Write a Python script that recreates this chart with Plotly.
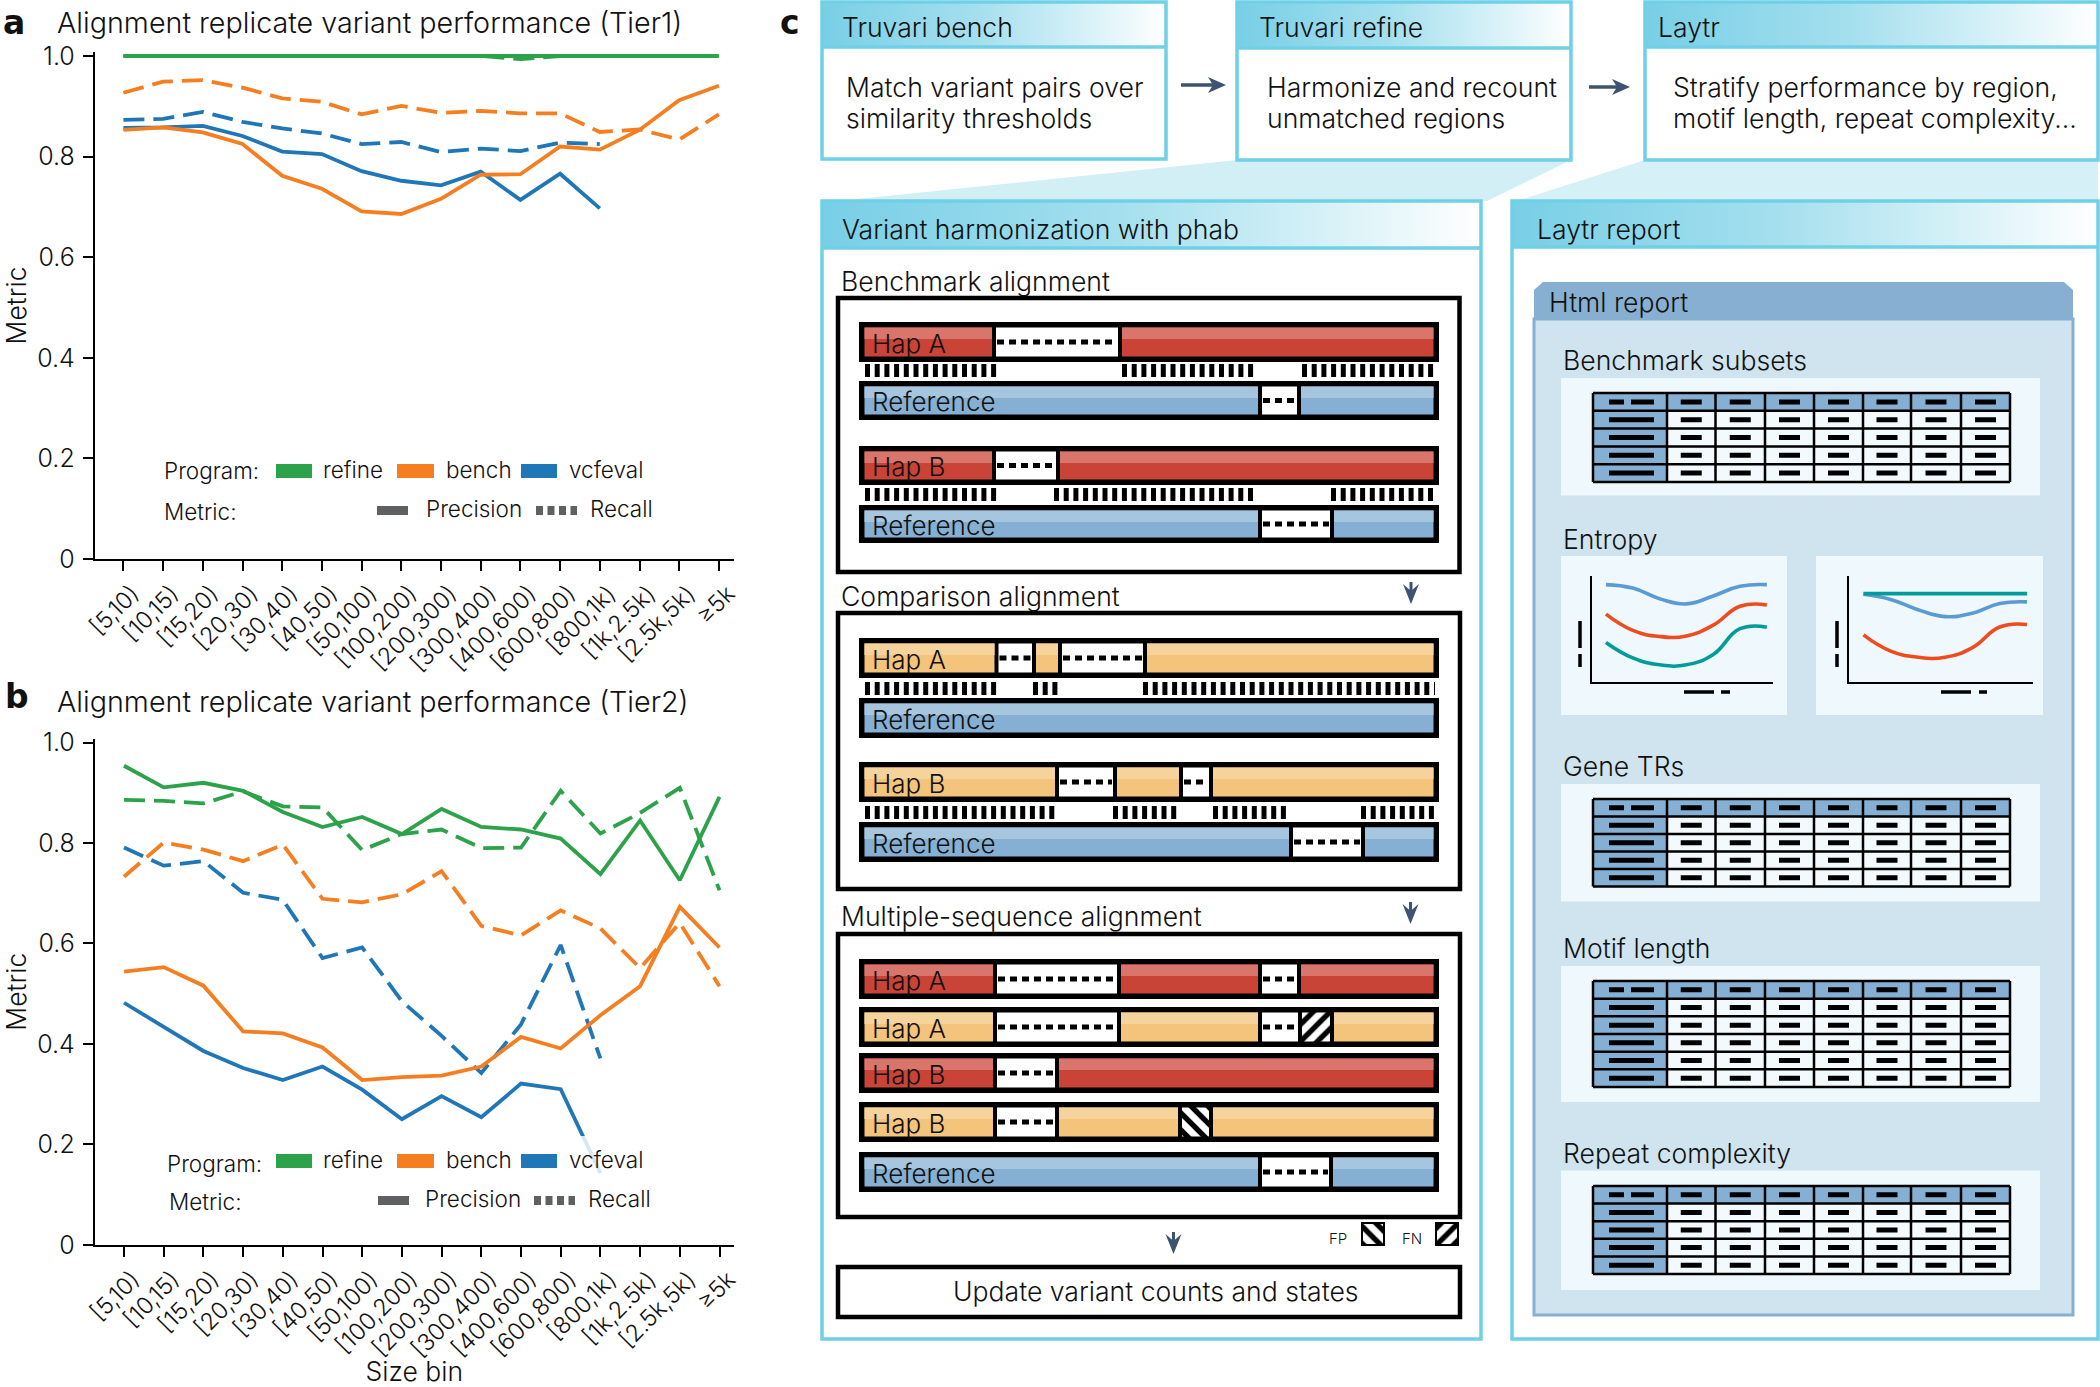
import plotly.graph_objects as go

W, H = 2100, 1387
FONT = "Inter"
INK = "#111111"

size_bins = ["[5,10)", "[10,15)", "[15,20)", "[20,30)", "[30,40)", "[40,50)", "[50,100)", "[100,200)",
             "[200,300)", "[300,400)", "[400,600)", "[600,800)", "[800,1k)", "[1k,2.5k)", "[2.5k,5k)", "≥5k"]
y_ticks = [0, 0.2, 0.4, 0.6, 0.8, 1.0]
y_labels = ["0", "0.2", "0.4", "0.6", "0.8", "1.0"]

# panel a (Tier1)
t1_refine_prec = [1.0] * 16
t1_refine_rec = [1.0, 1.0, 1.0, 1.0, 1.0, 1.0, 1.0, 1.0, 1.0, 1.0, 0.994, 1.0, 1.0, 1.0, 1.0, 1.0]
t1_bench_prec = [0.853, 0.858, 0.848, 0.825, 0.762, 0.736, 0.691, 0.686, 0.716, 0.764, 0.765, 0.820, 0.814, 0.853, 0.912, 0.941]
t1_bench_rec = [0.927, 0.949, 0.952, 0.937, 0.916, 0.909, 0.884, 0.901, 0.887, 0.891, 0.886, 0.886, 0.849, 0.854, 0.834, 0.884]
t1_vcf_prec = [0.857, 0.858, 0.861, 0.841, 0.810, 0.805, 0.771, 0.752, 0.743, 0.770, 0.714, 0.766, 0.697]
t1_vcf_rec = [0.873, 0.875, 0.889, 0.869, 0.856, 0.846, 0.825, 0.829, 0.809, 0.816, 0.811, 0.828, 0.825]

# panel b (Tier2)
t2_refine_prec = [0.954, 0.911, 0.920, 0.904, 0.862, 0.832, 0.852, 0.818, 0.868, 0.832, 0.827, 0.809, 0.738, 0.845, 0.726, 0.892]
t2_refine_rec = [0.886, 0.884, 0.879, 0.903, 0.873, 0.871, 0.786, 0.818, 0.827, 0.790, 0.791, 0.904, 0.819, 0.860, 0.910, 0.706]
t2_bench_prec = [0.544, 0.553, 0.516, 0.425, 0.421, 0.393, 0.328, 0.334, 0.337, 0.355, 0.414, 0.391, 0.457, 0.515, 0.673, 0.592]
t2_bench_rec = [0.733, 0.801, 0.787, 0.764, 0.797, 0.689, 0.682, 0.698, 0.744, 0.635, 0.616, 0.666, 0.630, 0.551, 0.641, 0.515]
t2_vcf_prec = [0.482, 0.433, 0.386, 0.352, 0.328, 0.355, 0.309, 0.250, 0.296, 0.254, 0.321, 0.310, 0.143]
t2_vcf_rec = [0.791, 0.755, 0.764, 0.701, 0.687, 0.571, 0.592, 0.485, 0.416, 0.342, 0.439, 0.597, 0.371]

# little entropy charts in the report
entropy_x = [0, 1, 2, 3, 4, 5, 6]
ent1_blue = [0.919, 0.886, 0.786, 0.737, 0.812, 0.903, 0.919]
ent1_red = [0.640, 0.487, 0.429, 0.435, 0.536, 0.714, 0.727]
ent1_teal = [0.373, 0.227, 0.162, 0.162, 0.260, 0.503, 0.516]
ent2_teal = [0.834, 0.834, 0.834, 0.834, 0.834, 0.834, 0.834]
ent2_blue = [0.828, 0.779, 0.682, 0.617, 0.649, 0.740, 0.756]
ent2_red = [0.445, 0.292, 0.234, 0.234, 0.325, 0.519, 0.542]

GREEN, ORANGE, BLUE = "#2ca24a", "#f57f20", "#1f77b8"
CYAN = "#6fd0e7"
RED_BAR = ("#c94337", "#d9756b")
ORANGE_BAR = ("#f4c47c", "#f7d39c")
BLUE_BAR = ("#85b0d3", "#a6c5df")

fig = go.Figure()
shapes = []
notes = []


def text(x, y, s, size=26.6, anchor="left", **font):
    # annotations carry a little padding, so left-anchored text is pulled back
    notes.append(dict(x=x - 2 if anchor == "left" else x, y=y, text=s, showarrow=False, xanchor=anchor, yanchor="middle", xref="x", yref="y",
                      font=dict(family=font.pop("family", FONT), size=size, color=INK, weight=font.pop("weight", 300))))


def rect(x0, y0, x1, y1, fill=None, line=None, width=0, layer="below", opacity=None):
    s = dict(type="rect", x0=x0, y0=y0, x1=x1, y1=y1, xref="x", yref="y", layer=layer,
             line=dict(color=line or "rgba(0,0,0,0)", width=width))
    if fill:
        s["fillcolor"] = fill
    if opacity is not None:
        s["opacity"] = opacity
    shapes.append(s)


def seg(x0, y0, x1, y1, color="black", width=2, dash=None, layer="below"):
    shapes.append(dict(type="line", x0=x0, y0=y0, x1=x1, y1=y1, xref="x", yref="y", layer=layer,
                       line=dict(color=color, width=width, dash=dash or "solid")))


def poly(points, fill, layer="below"):
    path = "M" + " L".join(f"{a},{b}" for a, b in points) + " Z"
    shapes.append(dict(type="path", path=path, xref="x", yref="y", fillcolor=fill, layer=layer,
                       line=dict(width=0, color="rgba(0,0,0,0)")))


def gradient(x0, y0, x1, y1):
    fig.add_trace(go.Scatter(
        x=[x0, x1, x1, x0, x0], y=[y0, y0, y1, y1, y0], mode="lines", fill="toself",
        line=dict(width=0), hoverinfo="skip", showlegend=False,
        fillgradient=dict(type="horizontal", colorscale=[[0, "#78cfe6"], [0.45, "#a4dfee"], [0.8, "#dcf3f8"], [1, "#ffffff"]]),
    ))


def hatch(x0, y0, x1, y1, pattern):
    fig.add_trace(go.Bar(
        x=[(x0 + x1) / 2], y=[y1 - y0], base=[y0], width=[x1 - x0], hoverinfo="skip", showlegend=False,
        marker=dict(color="white", line=dict(width=0),
                    pattern=dict(shape=pattern, fgcolor="black", bgcolor="white", fgopacity=1, size=12, solidity=0.45)),
    ))


def box(x0, y0, x1, y1, header_bottom, title, title_x, title_dy=2):
    rect(x0, y0, x1, y1, fill="white")
    gradient(x0, y0, x1, header_bottom)
    rect(x0, y0, x1, y1, line=CYAN, width=3.5, layer="above")
    seg(x0, header_bottom, x1, header_bottom, CYAN, 3.5, layer="above")
    text(title_x, (y0 + header_bottom) / 2 + title_dy, title)


def arrow_right(x0, x1, y):
    seg(x0, y, x1 - 10, y, "#3e5370", 3.5, layer="above")
    poly([(x1, y), (x1 - 18, y - 8), (x1 - 13, y), (x1 - 18, y + 8)], "#3e5370", layer="above")


def arrow_down(x, y0, y1):
    seg(x, y0, x, y1 - 8, "#3e5370", 3, layer="above")
    poly([(x, y1), (x - 8, y1 - 20), (x, y1 - 13), (x + 8, y1 - 20)], "#3e5370", layer="above")


def hap_bar(y0, y1, colors, label, gaps=(), hatched=None):
    # black outline, coloured runs, white gaps with a dotted deletion mark
    left, right = 859, 1439
    inner0, inner1 = y0 + 5.5, y1 - 5.5
    rect(left, y0, right, y1, fill="black")
    holes = sorted(list(gaps) + ([hatched[:2]] if hatched else []))
    start = 864.5
    for a, b in holes + [(1438, 1438)]:
        stop = min(a - 4, 1433.5)
        if stop > start:
            rect(start, inner0, stop, inner1, fill=colors[0])
            rect(start, inner0, stop, inner0 + 11.5, fill=colors[1])
        start = b + 4
    for a, b in gaps:
        rect(a, inner0, b, inner1, fill="white")
        seg(a + 1, (inner0 + inner1) / 2, b - 1, (inner0 + inner1) / 2, "black", 5, dash="7px,5px")
    if hatched:
        hatch(hatched[0], inner0, hatched[1], inner1, hatched[2])
    text(872, (y0 + y1) / 2 + 1, label, size=26)


def match_ticks(y0, y1, runs):
    for a, b in runs:
        seg(a, (y0 + y1) / 2, b, (y0 + y1) / 2, "black", y1 - y0, dash="5px,4.7px")


def table(x_edges, y0, y1, nrows):
    step = (y1 - y0) / nrows
    rect(x_edges[0], y0, x_edges[-1], y1, fill="#f2fafd")
    rect(x_edges[0], y0, x_edges[1], y1, fill="#85b0d3")
    rect(x_edges[0], y0, x_edges[-1], y0 + step, fill="#85b0d3")
    grid, pills = [], []
    for i in range(nrows + 1):
        yy = y0 + i * step
        grid.append(f"M{x_edges[0]},{yy} L{x_edges[-1]},{yy}")
    for xx in x_edges:
        grid.append(f"M{xx},{y0} L{xx},{y1}")
    for i in range(nrows):
        yy = y0 + (i + 0.5) * step
        if i == 0:
            pills.append(f"M1609,{yy} L1624,{yy} M1631,{yy} L1654,{yy}")
        else:
            pills.append(f"M1609,{yy} L1654,{yy}")
        for a, b in zip(x_edges[1:-1], x_edges[2:]):
            mid = (a + b) / 2
            pills.append(f"M{mid - 10.5},{yy} L{mid + 10.5},{yy}")
    shapes.append(dict(type="path", path=" ".join(grid), xref="x", yref="y", layer="below", line=dict(color="black", width=2.5)))
    shapes.append(dict(type="path", path=" ".join(pills), xref="x", yref="y", layer="below", line=dict(color="black", width=5)))


def add_metric_lines(xa, ya, series):
    for values, color, dashed in series:
        fig.add_trace(go.Scatter(
            x=size_bins[:len(values)], y=values, xaxis=xa, yaxis=ya, mode="lines", showlegend=False, hoverinfo="skip",
            line=dict(color=color, width=3.8, dash="21px,9px" if dashed else "solid"),
        ))


def program_legend(cover, prog_y, metric_y, prog_x, metric_x, swatch_y, gray_y, gray_x, prec_x, rec_x, dash_x):
    rect(cover[0], cover[1], cover[2], cover[3], fill="white", layer="above", opacity=0.82)
    for (a, b), color, label, lx in [((276, 312), GREEN, "refine", 323), ((397, 434), ORANGE, "bench", 446), ((521, 557), BLUE, "vcfeval", 569)]:
        rect(a, swatch_y, b, swatch_y + 14, fill=color, layer="above")
        text(lx, swatch_y + 5, label, size=22.5)
    text(prog_x, prog_y, "Program:", size=22.5)
    text(metric_x, metric_y, "Metric:", size=22.5)
    rect(gray_x, gray_y, gray_x + 31, gray_y + 9, fill="#5f6062", layer="above")
    seg(dash_x, gray_y + 4.5, dash_x + 41, gray_y + 4.5, "#5f6062", 9, dash="7px,4.5px", layer="above")
    text(prec_x, gray_y + 2, "Precision", size=22.5)
    text(rec_x, gray_y + 2, "Recall", size=22.5)


# ---- panels a and b: real axes, placed by pixel rows of the page
def chart_axes(n, y_top, y_zero, first_tick, show_xtitle):
    title_font = dict(family=FONT, size=26.5, color=INK, weight=300)
    fig.update_layout({
        f"xaxis{n}": dict(domain=[94.5 / W, 734 / W], anchor=f"y{n}", type="category", categoryorder="array", categoryarray=size_bins,
                          range=[(94.5 - first_tick) / 39.7, (734 - first_tick) / 39.7], automargin=False,
                          tickmode="array", tickvals=size_bins, ticktext=size_bins, tickangle=-45, ticks="outside", ticklen=10, tickwidth=1.5,
                          tickcolor="black", showline=True, linecolor="black", linewidth=1.5, showgrid=False, zeroline=False, ticklabelshift=9,
                          tickfont=dict(family=FONT, size=23.5, color=INK, weight=300),
                          title=dict(text="Size bin" if show_xtitle else "", font=title_font, standoff=11)),
        f"yaxis{n}": dict(domain=[(H - y_zero) / H, (H - y_top) / H], anchor=f"x{n}", range=[0, 1.008], automargin=False,
                          tickmode="array", tickvals=y_ticks, ticktext=y_labels, ticks="outside", ticklen=10, tickwidth=1.5,
                          tickcolor="black", showline=True, linecolor="black", linewidth=1.5, showgrid=False, zeroline=False, ticklabelstandoff=3,
                          tickfont=dict(family=FONT, size=25, color=INK, weight=300),
                          title=dict(text="Metric", font=title_font, standoff=9)),
    })


# the overlay axes carry all of panel c in page pixels
fig.update_layout(
    xaxis=dict(domain=[0, 1], range=[0, W], visible=False, fixedrange=True, automargin=False),
    yaxis=dict(domain=[0, 1], range=[H, 0], visible=False, fixedrange=True, automargin=False),
)

# ---- panel c, top row
poly([(1237, 160), (1571, 160), (1487, 201), (838, 201)], "#d2eff6")
poly([(1645, 160), (2098, 160), (2098, 201), (1517, 201)], "#d5f0f7")

box(822, 2, 1166, 159, 47, "Truvari bench", 842)
text(846, 87, "Match variant pairs over")
text(846, 118, "similarity thresholds")
box(1237, 2, 1571, 160, 48, "Truvari refine", 1259)
text(1267, 87, "Harmonize and recount")
text(1267, 118, "unmatched regions")
box(1645, 2, 2098, 160, 47, "Laytr", 1658)
text(1673, 87, "Stratify performance by region,")
text(1673, 118, "motif length, repeat complexity...")
arrow_right(1181, 1226, 85)
arrow_right(1589, 1630, 87)

# ---- phab box
box(822, 201, 1481, 1339, 248, "Variant harmonization with phab", 842, title_dy=4)

text(841, 281, "Benchmark alignment")
rect(838, 298, 1459.5, 572, line="black", width=4.5)
hap_bar(322, 362, RED_BAR, "Hap A", gaps=[(996, 1118)])
match_ticks(364, 377, [(865, 999), (1122, 1256), (1302, 1436)])
hap_bar(381, 420, BLUE_BAR, "Reference", gaps=[(1262, 1297)])
hap_bar(446, 485, RED_BAR, "Hap B", gaps=[(996, 1056)])
match_ticks(488, 501, [(865, 999), (1054, 1256), (1331, 1436)])
hap_bar(505, 543, BLUE_BAR, "Reference", gaps=[(1262, 1330)])

text(841, 596, "Comparison alignment")
arrow_down(1411, 582, 604)
rect(838, 613, 1460, 889, line="black", width=4.5)
hap_bar(638, 678, ORANGE_BAR, "Hap A", gaps=[(998.5, 1032), (1062, 1143)])
match_ticks(682, 695, [(865, 999), (1033, 1059), (1143, 1435)])
hap_bar(698, 738, BLUE_BAR, "Reference")
hap_bar(762, 802, ORANGE_BAR, "Hap B", gaps=[(1059, 1113), (1183, 1209)])
match_ticks(806, 819, [(865, 1059), (1113, 1179), (1213, 1286), (1361, 1435)])
hap_bar(822, 862, BLUE_BAR, "Reference", gaps=[(1293, 1361)])

text(841, 916, "Multiple-sequence alignment")
arrow_down(1410.5, 902, 924)
rect(838, 934, 1460, 1217, line="black", width=4.5)
hap_bar(959, 999, RED_BAR, "Hap A", gaps=[(997, 1117), (1262, 1297)])
hap_bar(1007, 1047, ORANGE_BAR, "Hap A", gaps=[(997, 1117), (1262, 1298)], hatched=(1302, 1330, "/"))
hap_bar(1053, 1093, RED_BAR, "Hap B", gaps=[(997, 1055)])
hap_bar(1102, 1142, ORANGE_BAR, "Hap B", gaps=[(997, 1055)], hatched=(1182, 1209, "\\"))
hap_bar(1152, 1192, BLUE_BAR, "Reference", gaps=[(1262, 1329)])

text(1329, 1238, "FP", size=15)
rect(1361, 1222, 1385, 1246, fill="black")
hatch(1363, 1224, 1383, 1244, "\\")
text(1402, 1238, "FN", size=15)
rect(1435, 1222, 1459, 1246, fill="black")
hatch(1437, 1224, 1457, 1244, "/")
arrow_down(1173.5, 1232, 1254)
rect(838, 1267, 1460, 1317, line="black", width=4.5)
text(1156, 1291, "Update variant counts and states", anchor="center")

# ---- Laytr report box
box(1512, 201, 2098, 1339, 247, "Laytr report", 1537, title_dy=5)
poly([(1534, 319), (1534, 290), (1543, 282), (2064, 282), (2073, 290), (2073, 319)], "#86afd2")
rect(1534, 319, 2073, 1315, fill="#cfe4ef", line="#86afd2", width=3)
text(1549, 302, "Html report")

table_cols = [1593, 1667, 1715.5, 1765, 1814, 1863, 1911, 1961, 2010]
text(1563, 360, "Benchmark subsets")
rect(1561, 378, 2040, 495.5, fill="#eff8fc")
table(table_cols, 393, 482, 5)

text(1563, 539, "Entropy")
rect(1561, 556, 1787, 715, fill="#eff8fc")
rect(1816, 556, 2043, 715, fill="#eff8fc")
for bar_x, h0, h1, h2, h3 in [(1580, 1684, 1714, 1721, 1730), (1837, 1941, 1971, 1979, 1987)]:
    seg(bar_x, 621, bar_x, 648, "black", 3.5)
    seg(bar_x, 654, bar_x, 667, "black", 3.5)
    seg(h0, 692, h1, 692, "black", 3.5)
    seg(h2, 692, h3, 692, "black", 3.5)

text(1563, 766, "Gene TRs")
rect(1561, 784, 2040, 901.5, fill="#eff8fc")
table(table_cols, 799, 886.5, 5)

text(1563, 948, "Motif length")
rect(1561, 966, 2040, 1102, fill="#eff8fc")
table(table_cols, 981, 1087, 6)

text(1563, 1152.5, "Repeat complexity")
rect(1561, 1170.5, 2040, 1290, fill="#eff8fc")
table(table_cols, 1186, 1274, 5)

# ---- panels a / b
add_metric_lines("x2", "y2", [
    (t1_refine_rec, GREEN, True), (t1_refine_prec, GREEN, False),
    (t1_vcf_rec, BLUE, True), (t1_vcf_prec, BLUE, False),
    (t1_bench_rec, ORANGE, True), (t1_bench_prec, ORANGE, False),
])
add_metric_lines("x3", "y3", [
    (t2_vcf_rec, BLUE, True), (t2_vcf_prec, BLUE, False),
    (t2_bench_rec, ORANGE, True), (t2_bench_prec, ORANGE, False),
    (t2_refine_rec, GREEN, True), (t2_refine_prec, GREEN, False),
])
chart_axes(2, 52, 559, 123.4, False)
chart_axes(3, 738.6, 1244.8, 124, True)

text(3, 22, "a", size=33, family="DejaVu Sans", weight=700)
text(57, 22.5, "Alignment replicate variant performance (Tier1)", size=28.7)
text(5, 696, "b", size=33, family="DejaVu Sans", weight=700)
text(57, 701, "Alignment replicate variant performance (Tier2)", size=28.7)
text(780, 22, "c", size=33, family="DejaVu Sans", weight=700)

program_legend((160, 455, 660, 530), 470, 511, 164, 164, 464, 506, 377, 426, 590, 536)
program_legend((160, 1136, 660, 1219), 1163, 1201, 167, 169, 1154, 1196, 378, 425, 588, 534)


# ---- entropy minis
def mini_axes(n, x0, x1, y0, y1, xr):
    line_style = dict(showline=True, linecolor="black", linewidth=2, showgrid=False, zeroline=False, showticklabels=False, ticks="", fixedrange=True, automargin=False)
    fig.update_layout({
        f"xaxis{n}": dict(domain=[x0 / W, x1 / W], anchor=f"y{n}", range=xr, **line_style),
        f"yaxis{n}": dict(domain=[(H - y1) / H, (H - y0) / H], anchor=f"x{n}", range=[0, 1], **line_style),
    })


for n, curves in [(4, [(ent1_blue, "#5a9bd6"), (ent1_red, "#ee4b1f"), (ent1_teal, "#009b9b")]),
                  (5, [(ent2_blue, "#5a9bd6"), (ent2_red, "#ee4b1f"), (ent2_teal, "#009b9b")])]:
    for values, color in curves:
        fig.add_trace(go.Scatter(x=entropy_x, y=values, xaxis=f"x{n}", yaxis=f"y{n}", mode="lines", showlegend=False,
                                 hoverinfo="skip", line=dict(color=color, width=3.6, shape="spline", smoothing=1.3)))
mini_axes(4, 1592, 1772.5, 576, 682, [-0.52, 6.21])
mini_axes(5, 1849, 2033, 576, 682, [-0.53, 6.22])

fig.update_layout(
    width=W, height=H, margin=dict(l=0, r=0, t=0, b=0), paper_bgcolor="white", plot_bgcolor="rgba(0,0,0,0)",
    showlegend=False, barmode="overlay", shapes=shapes, annotations=notes, font=dict(family=FONT, color=INK),
)

# the default page keeps the browser's 8px body margin
fig.write_html("out.html", config=dict(displayModeBar=False), post_script="document.body.style.margin='0';")
